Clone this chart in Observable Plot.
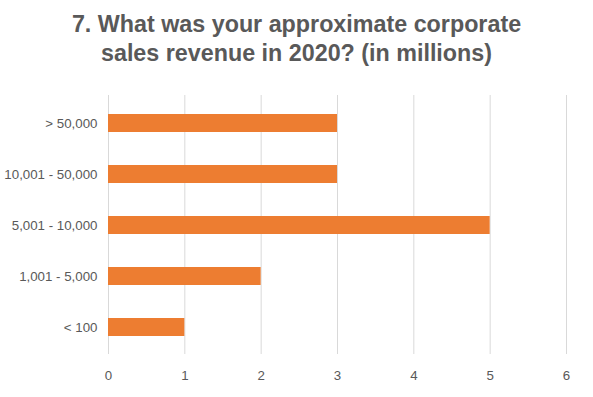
<!DOCTYPE html>
<html>
<head>
<meta charset="utf-8">
<script src="https://cdn.jsdelivr.net/npm/d3@7"></script>
<script src="https://cdn.jsdelivr.net/npm/@observablehq/plot@0.6"></script>
<style>
  body { margin: 0; background: #fff; }
  #wrap { width: 593px; height: 397px; position: relative; overflow: hidden; }
  #title { position: absolute; top: 10px; left: 0; width: 593px; text-align: center;
    font-family: "Liberation Sans", Arial, sans-serif; font-weight: bold; font-size: 23.3px;
    line-height: 29px; color: #595959; }
  #chart { position: absolute; top: 90px; left: 0; }
</style>
</head>
<body>
<div id="wrap">
  <div id="title">7. What was your approximate corporate<br>sales revenue in 2020? (in millions)</div>
  <div id="chart"></div>
</div>
<script>
const categories = ["> 50,000", "10,001 - 50,000", "5,001 - 10,000", "1,001 - 5,000", "< 100"];
const values = [3, 3, 5, 2, 1];
const xTicks = [0, 1, 2, 3, 4, 5, 6];

const data = categories.map((c, i) => ({category: c, value: values[i]}));

const plot = Plot.plot({
  width: 593,
  height: 307,
  marginTop: 5,
  marginBottom: 43,
  marginLeft: 108,
  marginRight: 27,
  style: {fontFamily: "'Liberation Sans', Arial, sans-serif", fontSize: "13.3px", color: "#595959", background: "#fff"},
  x: {domain: [0, 6], ticks: xTicks, tickFormat: "d", label: null},
  y: {domain: categories, paddingInner: 0.65, paddingOuter: 0.325, label: null},
  marks: [
    Plot.ruleX(xTicks, {stroke: "#D9D9D9", strokeWidth: 1}),
    Plot.barX(data, {x: "value", y: "category", fill: "#ED7D31"}),
    Plot.axisX({ticks: xTicks, tickFormat: "d", tickSize: 0, tickPadding: 16, label: null, fill: "#595959", fontSize: 13.3}),
    Plot.axisY({tickSize: 0, tickPadding: 11, label: null, fill: "#595959", fontSize: 13.3})
  ]
});
document.getElementById("chart").appendChild(plot);
</script>
</body>
</html>
